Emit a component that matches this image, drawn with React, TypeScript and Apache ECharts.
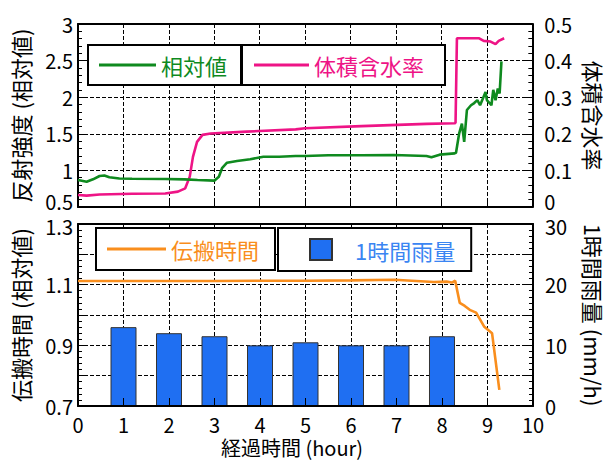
import React, { useEffect, useRef } from "react";
import * as echarts from "echarts";

// 経過時間 (hour) vs 相対値 (reflection intensity, relative)
const greenT = [0, 0.19, 0.33, 0.475, 0.58, 0.69, 0.91, 1.19, 1.92, 2.35, 2.63, 3.0, 3.1, 3.17, 3.28, 3.5, 3.79, 4.08, 4.43, 4.79, 5.0, 5.51, 6.24, 6.95, 7.67, 7.78, 7.96, 8.29, 8.32, 8.39, 8.45, 8.5, 8.56, 8.65, 8.72, 8.79, 8.85, 8.93, 8.97, 9.0, 9.1, 9.14, 9.19, 9.24, 9.28, 9.32];
const greenV = [0.869, 0.846, 0.878, 0.923, 0.93, 0.906, 0.89, 0.885, 0.882, 0.878, 0.869, 0.86, 0.914, 1.03, 1.105, 1.128, 1.152, 1.187, 1.187, 1.197, 1.197, 1.206, 1.206, 1.21, 1.197, 1.18, 1.215, 1.233, 1.24, 1.507, 1.64, 1.39, 1.825, 1.89, 1.92, 1.96, 1.89, 2.01, 2.07, 1.96, 1.89, 2.1, 1.96, 2.12, 2.05, 2.49];

// 体積含水率 (volumetric water content)
const pinkT = [0, 0.19, 0.475, 1.19, 1.92, 2.2, 2.36, 2.46, 2.53, 2.62, 2.74, 2.92, 3.71, 4.79, 5.0, 6.24, 7.67, 8.29, 8.31, 8.34, 8.83, 8.93, 9.08, 9.19, 9.26, 9.38];
const pinkV = [0.033, 0.031, 0.034, 0.036, 0.037, 0.042, 0.051, 0.083, 0.137, 0.178, 0.197, 0.201, 0.206, 0.212, 0.215, 0.221, 0.227, 0.229, 0.23, 0.461, 0.461, 0.454, 0.452, 0.445, 0.454, 0.461];

// 伝搬時間 (propagation time, relative)
const orangeT = [0, 1, 2, 3, 4, 5, 6, 6.95, 7.82, 8.1, 8.22, 8.29, 8.39, 8.5, 8.61, 8.75, 8.93, 9.1, 9.26];
const orangeV = [1.112, 1.112, 1.112, 1.112, 1.113, 1.113, 1.114, 1.116, 1.109, 1.11, 1.107, 1.113, 1.04, 1.03, 1.017, 1.008, 0.961, 0.94, 0.753];

// 1時間雨量 (mm/h)
const rainHours = [1, 2, 3, 4, 5, 6, 7, 8];
const rainValues = [13, 12, 11.5, 10, 10.5, 10, 10, 11.5];

const FONT = "Noto Sans CJK JP";
const GREEN = "#0f8a1f";
const PINK = "#ee1486";
const ORANGE = "#f98e1d";
const BLUE = "#1f6ff2";
const BLUE_TEXT = "#3a85f2";

function zip(a: number[], b: number[]) {
  return a.map((v, i) => [v, b[i]]);
}

export default function App() {
  const ref = useRef<HTMLDivElement>(null);
  useEffect(() => {
    document.body.style.margin = "0";
    if (!ref.current) return;
    const chart = echarts.init(ref.current, undefined, { renderer: "svg" });
    const dashed = () => ({ show: true, lineStyle: { color: "#000", type: "dashed", dashOffset: 0, width: 1 } });
    const tick = () => ({ show: true, inside: true, length: 8, lineStyle: { color: "#000", width: 1 } });
    const minor = () => ({ show: true, splitNumber: 5, length: 4, lineStyle: { color: "#000", width: 1 } });
    const axisLine = () => ({ show: true, onZero: false, lineStyle: { color: "#000", width: 2 } });
    const lbl = { color: "#000", fontSize: 20, fontFamily: FONT };
    const nameStyle = { color: "#000", fontSize: 22, fontFamily: FONT };
    const rich = {
      up: { color: "#000", fontSize: 20, fontFamily: FONT, padding: [0, 0, 12, 0] },
      dn: { color: "#000", fontSize: 20, fontFamily: FONT, padding: [4, 0, 0, 0] },
    };

    const legendBase = {
      backgroundColor: "#fff",
      borderColor: "#000",
      borderWidth: 2,
      borderRadius: 0,
      icon: "rect",
    };

    chart.setOption({
      animation: false,
      backgroundColor: "#fff",
      textStyle: { fontFamily: FONT },
      grid: [
        { left: 78, right: 72, top: 24, height: 183 },
        { left: 78, right: 72, top: 224, height: 182 },
      ],
      legend: [
        {
          ...legendBase,
          data: ["相対値"],
          left: 88,
          top: 45,
          padding: [9, 14, 9, 11],
          itemWidth: 57,
          itemHeight: 3,
          textStyle: { color: GREEN, fontSize: 22, fontFamily: FONT },
        },
        {
          ...legendBase,
          data: ["体積含水率"],
          left: 242,
          top: 45,
          padding: [9, 21, 9, 12],
          itemWidth: 55,
          itemHeight: 3,
          textStyle: { color: PINK, fontSize: 22, fontFamily: FONT },
        },
        {
          ...legendBase,
          data: ["伝搬時間"],
          left: 96,
          top: 228,
          padding: [10, 16, 10, 11],
          itemWidth: 59,
          itemHeight: 3,
          textStyle: { color: ORANGE, fontSize: 22, fontFamily: FONT },
        },
        {
          ...legendBase,
          data: ["1時間雨量"],
          left: 278,
          top: 228,
          padding: [10, 16, 10, 31],
          itemWidth: 22,
          itemHeight: 21,
          textStyle: { color: BLUE_TEXT, fontSize: 22, fontFamily: FONT, padding: [0, 0, 0, 18] },
        },
      ],
      xAxis: [
        {
          type: "value",
          gridIndex: 0,
          min: 0,
          max: 10,
          interval: 1,
          position: "bottom",
          axisLine: axisLine(),
          axisTick: tick(),
          splitLine: dashed(),
          axisLabel: { show: false },
        },
        {
          type: "value",
          gridIndex: 0,
          min: 0,
          max: 10,
          interval: 1,
          position: "top",
          axisLine: axisLine(),
          axisTick: { show: false },
          splitLine: { show: false },
          axisLabel: { show: false },
        },
        {
          type: "value",
          gridIndex: 1,
          min: 0,
          max: 10,
          interval: 1,
          position: "bottom",
          axisLine: axisLine(),
          axisTick: tick(),
          splitLine: { show: false },
          axisLabel: { ...lbl, margin: 8, lineHeight: 20 },
          name: "経過時間 (hour)",
          nameLocation: "middle",
          nameGap: 31,
          nameTextStyle: { ...nameStyle, fontSize: 20, lineHeight: 20, padding: [0, 27, 0, 0] },
          z: 10,
        },
        {
          type: "value",
          gridIndex: 1,
          min: 0,
          max: 10,
          interval: 1,
          position: "top",
          axisLine: axisLine(),
          axisTick: { show: false },
          splitLine: dashed(),
          axisLabel: { show: false },
        },
      ],
      yAxis: [
        {
          type: "value",
          gridIndex: 0,
          position: "left",
          min: 0.5,
          max: 3,
          interval: 0.5,
          axisLine: axisLine(),
          axisTick: tick(),
          minorTick: minor(),
          splitLine: dashed(),
          axisLabel: {
            ...lbl,
            margin: 5,
            formatter: (v: number) => (Math.abs(v - 0.5) < 1e-6 ? "{up|0.5}" : String(v)),
            rich,
          },
          name: "反射強度 (相対値)",
          nameLocation: "middle",
          nameRotate: 90,
          nameGap: 47,
          nameTextStyle: nameStyle,
        },
        {
          type: "value",
          gridIndex: 0,
          position: "right",
          min: 0,
          max: 0.5,
          interval: 0.1,
          axisLine: axisLine(),
          axisTick: tick(),
          minorTick: minor(),
          splitLine: { show: false },
          axisLabel: {
            ...lbl,
            margin: 12,
            formatter: (v: number) => (v === 0 ? "{up|0}" : String(v)),
            rich,
          },
          name: "体積含水率",
          nameLocation: "middle",
          nameRotate: -90,
          nameGap: 48,
          nameTextStyle: nameStyle,
        },
        {
          type: "value",
          gridIndex: 1,
          position: "left",
          min: 0.7,
          max: 1.3,
          interval: 0.1,
          axisLine: axisLine(),
          axisTick: tick(),
          minorTick: minor(),
          splitLine: dashed(),
          axisLabel: {
            ...lbl,
            margin: 5,
            formatter: (v: number) => {
              const k = Math.round(v * 10);
              if (k % 2 === 0) return "";
              return k === 13 ? "{dn|1.3}" : v.toFixed(1);
            },
            rich,
          },
          name: "伝搬時間 (相対値)",
          nameLocation: "middle",
          nameRotate: 90,
          nameGap: 47,
          nameTextStyle: nameStyle,
        },
        {
          type: "value",
          gridIndex: 1,
          position: "right",
          min: 0,
          max: 30,
          interval: 5,
          axisLine: axisLine(),
          axisTick: tick(),
          minorTick: minor(),
          splitLine: { show: false },
          axisLabel: {
            ...lbl,
            margin: 12,
            formatter: (v: number) => (v === 30 ? "{dn|30}" : v % 10 === 0 ? String(v) : ""),
            rich,
          },
          name: "1時間雨量 (mm/h)",
          nameLocation: "middle",
          nameRotate: -90,
          nameGap: 50,
          nameTextStyle: nameStyle,
        },
      ],
      series: [
        {
          name: "相対値",
          type: "line",
          xAxisIndex: 0,
          yAxisIndex: 0,
          data: zip(greenT, greenV),
          showSymbol: false,
          symbol: "none",
          color: GREEN,
          lineStyle: { color: GREEN, width: 2.6 },
          z: 3,
        },
        {
          name: "体積含水率",
          type: "line",
          xAxisIndex: 0,
          yAxisIndex: 1,
          data: zip(pinkT, pinkV),
          showSymbol: false,
          symbol: "none",
          color: PINK,
          lineStyle: { color: PINK, width: 2.6 },
          z: 2,
        },
        {
          name: "1時間雨量",
          type: "bar",
          xAxisIndex: 2,
          yAxisIndex: 3,
          data: zip(rainHours, rainValues),
          barWidth: 26,
          color: BLUE,
          itemStyle: { color: BLUE, borderColor: "#333", borderWidth: 1 },
          z: 2,
        },
        {
          name: "伝搬時間",
          type: "line",
          xAxisIndex: 2,
          yAxisIndex: 2,
          data: zip(orangeT, orangeV),
          showSymbol: false,
          symbol: "none",
          color: ORANGE,
          lineStyle: { color: ORANGE, width: 2.6 },
          z: 3,
        },
      ],
    });
    return () => chart.dispose();
  }, []);
  return <div ref={ref} style={{ width: 613, height: 463 }} />;
}
